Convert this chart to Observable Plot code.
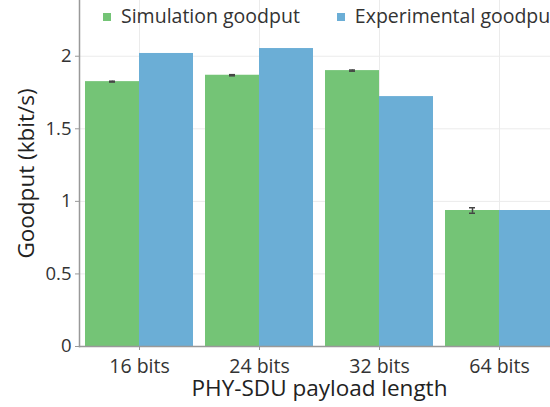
<!DOCTYPE html>
<html>
<head>
<meta charset="utf-8">
<script src="https://cdn.jsdelivr.net/npm/d3@7"></script>
<script src="https://cdn.jsdelivr.net/npm/@observablehq/plot@0.6"></script>
<style>
html, body { margin: 0; padding: 0; overflow: hidden; background: #fff; }
#wrap { position: relative; width: 550px; height: 407px; overflow: hidden; font-family: "Open Sans", sans-serif; }
#wrap svg { max-width: none !important; }
#legend { position: absolute; top: 2px; left: 103px; display: flex; align-items: center; font-size: 19.5px; color: #333; white-space: nowrap; z-index: 2; }
.item { display: flex; align-items: center; margin-right: 37px; }
.sw { width: 8px; height: 8px; margin-right: 10px; position: relative; top: 1.5px; }
</style>
</head>
<body>
<div id="wrap"><div id="legend"></div></div>
<script>
const categories = ["16 bits", "24 bits", "32 bits", "64 bits"];
const series = ["Simulation goodput", "Experimental goodput"];
const simValues = [1.825, 1.869, 1.901, 0.937];
const simErrors = [0.003, 0.004, 0.004, 0.019];
const expValues = [2.019, 2.053, 1.722, 0.937];
const yTicks = [0, 0.5, 1, 1.5, 2];
const colors = ["#74c476", "#6baed6"];
const yLabel = "Goodput (kbit/s)";
const xLabel = "PHY-SDU payload length";

const data = categories.flatMap((c, i) => [
  {category: c, series: series[0], value: simValues[i], err: simErrors[i]},
  {category: c, series: series[1], value: expValues[i], err: null}
]);
const simData = data.filter(d => d.series === series[0]);

const chart = Plot.plot({
  width: 560,
  height: 407,
  marginLeft: 77,
  marginRight: 0,
  marginTop: 0,
  marginBottom: 61,
  style: {fontFamily: "'Open Sans', sans-serif", background: "white", overflow: "visible", maxWidth: "none"},
  fx: {domain: categories, padding: 0, label: null, axis: null},
  x: {domain: series, paddingInner: 0, paddingOuter: 0.1, axis: null},
  y: {domain: [0, 2.384], axis: null},
  color: {domain: series, range: colors},
  marks: [
    Plot.gridFx({stroke: "#ebebeb", strokeOpacity: 1}),
    Plot.ruleY(yTicks.slice(1), {stroke: "#ebebeb", strokeWidth: 1}),
    Plot.barY(data, {fx: "category", x: "series", y: "value", fill: "series"}),
    Plot.ruleX(simData, {fx: "category", x: "series", y1: d => d.value - d.err, y2: d => d.value + d.err, stroke: "#444", strokeWidth: 1.5}),
    Plot.tickY(simData, {fx: "category", x: "series", y: d => d.value - d.err, stroke: "#444", strokeWidth: 1.5, insetLeft: 24, insetRight: 24}),
    Plot.tickY(simData, {fx: "category", x: "series", y: d => d.value + d.err, stroke: "#444", strokeWidth: 1.5, insetLeft: 24, insetRight: 24}),
    Plot.frame({anchor: "left", facet: "super", stroke: "#999", strokeWidth: 1.5}),
    Plot.frame({anchor: "bottom", facet: "super", stroke: "#999", strokeWidth: 1.5}),
    Plot.axisY({ticks: yTicks, tickFormat: d => String(d), tickSize: 4, tickPadding: 4, fontSize: 18.5, stroke: "#999", fill: "#333", label: null}),
    Plot.axisFx({anchor: "bottom", tickSize: 4, tickPadding: 9, fontSize: 19.5, stroke: "#999", fill: "#333", label: null}),
    Plot.text([yLabel], {facet: "super", frameAnchor: "left", textAnchor: "middle", lineAnchor: "middle", rotate: -90, dx: -53, fontSize: 22.5, fill: "#222"}),
    Plot.text([xLabel], {facet: "super", frameAnchor: "bottom", textAnchor: "middle", lineAnchor: "middle", dy: 42, fontSize: 22.5, fill: "#222"})
  ]
});
chart.style.maxWidth = "none";
document.getElementById("wrap").appendChild(chart);

const legend = document.getElementById("legend");
series.forEach((s, i) => {
  const item = document.createElement("div");
  item.className = "item";
  const sw = document.createElement("div");
  sw.className = "sw";
  sw.style.background = colors[i];
  const t = document.createElement("span");
  t.textContent = s;
  item.appendChild(sw);
  item.appendChild(t);
  legend.appendChild(item);
});
</script>
</body>
</html>
